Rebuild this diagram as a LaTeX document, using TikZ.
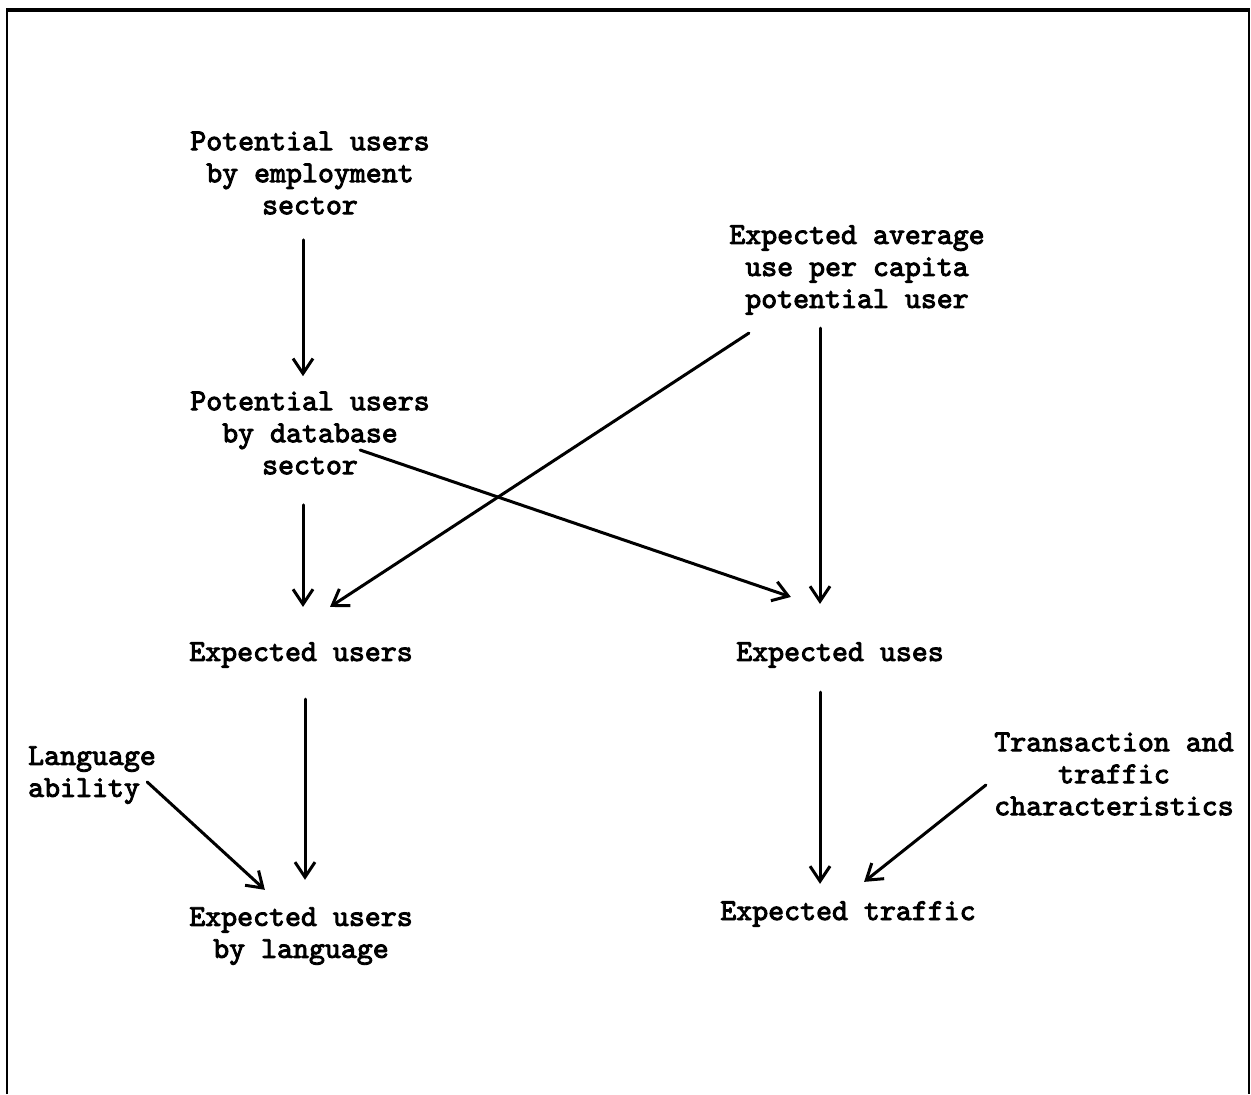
\documentclass[tikz,border=0pt]{standalone}
\usepackage{fontspec}
\newfontfamily\typew{lmmono10-regular.otf}[FakeBold=3]
\usetikzlibrary{arrows.meta}
\tikzset{
    box/.style={inner sep=0pt, align=center, font=\typew\fontsize{15.2}{16}\selectfont},
    arr/.style={line width=1.5pt, line cap=round, -{Straight Barb[length=7.5pt,width=10pt,line width=1.5pt]}}
}
\begin{document}
\begin{tikzpicture}[x=0.5pt,y=-0.5pt]
            \useasboundingbox (0,0) rectangle (1251,1094);
            % frame, open at the bottom
            \draw[line width=1.2pt] (7,1094) -- (7,10);
            \draw[line width=1.2pt] (1249,10) -- (1249,1094);
            \draw[line width=2pt] (6,10) -- (1250,10);
            % boxes
            \node[box] (emp) at (310,173) {Potential users\\by employment\\sector};
            \node[box] (db) at (310,433) {Potential users\\by database\\sector};
            \node[box] (avg) at (857,270) {Expected average\\use per capita\\potential user};
            \node[box] (eusers) at (301,655) {Expected users};
            \node[box] (euses) at (840,655) {Expected uses};
            \node[box, align=left] (lang) at (92,775) {Language\\ability};
            \node[box] (trans) at (1114,774) {Transaction and\\traffic\\characteristics};
            \node[box] (elang) at (301,936) {Expected users\\by language};
            \node[box] (traffic) at (848,914) {Expected traffic};
            % arrows
            \draw[arr] ([shift={(-7,25)}]emp.south) -- ([shift={(-7,-15)}]db.north);
            \draw[arr] ([shift={(-7,30)}]db.south) -- ([shift={(2,-35)}]eusers.north);
            \draw[arr] ([shift={(4,31)}]eusers.south) -- ([shift={(4,-27)}]elang.north);
            \draw[arr] ([shift={(-20,24)}]euses.south) -- ([shift={(-28,-17)}]traffic.north);
            \draw[arr] ([shift={(-37,13)}]avg.south) -- ([shift={(-20,-38)}]euses.north);
            \draw[arr] ([shift={(20,18)}]avg.south west) -- ([shift={(29,-35)}]eusers.north);
            \draw[arr] ([shift={(-70,17)}]db.east) -- ([shift={(55,-45)}]euses.north west);
            \draw[arr] ([shift={(-9,7)}]lang.east) -- ([shift={(76,-17)}]elang.north west);
            \draw[arr] ([shift={(-8,11)}]trans.west) -- ([shift={(-112,-19)}]traffic.north east);
\end{tikzpicture}
\end{document}
